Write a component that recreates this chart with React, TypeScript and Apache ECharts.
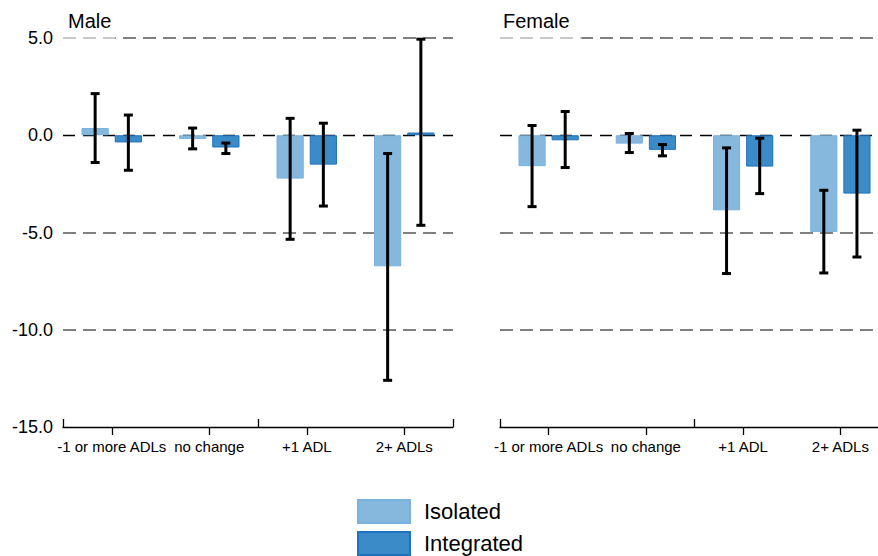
import React, { useEffect, useRef } from "react";
import * as echarts from "echarts";

const categories = ["-1 or more ADLs", "no change", "+1 ADL", "2+ ADLs"];
const yTicks = [-15, -10, -5, 0, 5];
const legendNames = ["Isolated", "Integrated"];

const maleIsolated = [0.37, -0.19, -2.23, -6.74];
const maleIsolatedLow = [-1.4, -0.7, -5.35, -12.6];
const maleIsolatedHigh = [2.14, 0.37, 0.87, -0.94];
const maleIntegrated = [-0.37, -0.63, -1.51, 0.14];
const maleIntegratedLow = [-1.8, -0.94, -3.64, -4.63];
const maleIntegratedHigh = [1.04, -0.4, 0.62, 4.94];

const femaleIsolated = [-1.59, -0.43, -3.86, -4.97];
const femaleIsolatedLow = [-3.67, -0.89, -7.11, -7.08];
const femaleIsolatedHigh = [0.5, 0.09, -0.65, -2.83];
const femaleIntegrated = [-0.26, -0.75, -1.61, -3.0];
const femaleIntegratedLow = [-1.66, -1.06, -3.0, -6.26];
const femaleIntegratedHigh = [1.22, -0.48, -0.15, 0.26];

const FONT = "'Liberation Sans', Arial, Helvetica, sans-serif";
const ISO_FILL = "#86b8dd";
const ISO_BORDER = "#79b2de";
const INT_FILL = "#3a8bc7";
const INT_BORDER = "#1f72bd";

const GAP_CAT = 0.38;
const GAP_BAR = 0.22;

function errData(lo: number[], hi: number[]) {
  return lo.map((l, i) => [i, l, hi[i]]);
}

function errorRender(sign: number) {
  return (params: any, api: any) => {
    const i = api.value(0);
    const lo = api.value(1);
    const hi = api.value(2);
    const pLo = api.coord([i, lo]);
    const pHi = api.coord([i, hi]);
    const catW = api.size([1, 0])[0];
    const w = (catW * (1 - GAP_CAT)) / (2 + GAP_BAR);
    const x = pLo[0] + sign * (w / 2 + (GAP_BAR * w) / 2);
    const style = { stroke: "#000", lineWidth: 3 };
    const cap = 4.5;
    return {
      type: "group",
      children: [
        { type: "line", shape: { x1: x, y1: pHi[1], x2: x, y2: pLo[1] }, style },
        { type: "line", shape: { x1: x - cap, y1: pHi[1], x2: x + cap, y2: pHi[1] }, style },
        { type: "line", shape: { x1: x - cap, y1: pLo[1], x2: x + cap, y2: pLo[1] }, style },
      ],
    };
  };
}

export default function App() {
  const ref = useRef<HTMLDivElement>(null);
  useEffect(() => {
    if (!ref.current) return;
    document.body.style.margin = "0";
    const chart = echarts.init(ref.current, null, { renderer: "svg" });

    const grids = [
      { left: 63, top: 38, width: 390, height: 389 },
      { left: 500, top: 38, width: 389, height: 389 },
    ];

    const xAxes: any[] = [];
    const yAxes: any[] = [];
    [0, 1].forEach((g) => {
      xAxes.push({
        type: "category",
        gridIndex: g,
        data: categories,
        position: "bottom",
        axisLine: { show: true, onZero: false, lineStyle: { color: "#000", width: 1.3 } },
        axisTick: { show: true, inside: true, length: 8, lineStyle: { color: "#000", width: 1.3 } },
        axisLabel: { show: false },
        splitLine: { show: false },
      });
      xAxes.push({
        type: "category",
        gridIndex: g,
        data: categories,
        position: "bottom",
        axisLine: { show: false, onZero: false },
        axisTick: { show: true, alignWithLabel: true, length: 8, lineStyle: { color: "#000", width: 1.3 } },
        axisLabel: { show: true, interval: 0, margin: 12, fontSize: 15, color: "#000", fontFamily: FONT },
        splitLine: { show: false },
      });
      yAxes.push({
        type: "value",
        gridIndex: g,
        min: yTicks[0],
        max: yTicks[yTicks.length - 1],
        interval: 5,
        axisLine: { show: false },
        axisTick: { show: false },
        axisLabel: {
          show: g === 0,
          margin: 10,
          fontSize: 18,
          color: "#000",
          fontFamily: FONT,
          formatter: (v: number) => v.toFixed(1),
        },
        splitLine: {
          show: true,
          lineStyle: {
            color: yTicks.map((t) => (t === 0 || t === -15 ? "transparent" : "#808080")),
            width: 2,
            type: [13, 7],
          },
        },
      });
    });

    const panels = [
      {
        iso: maleIsolated, isoLo: maleIsolatedLow, isoHi: maleIsolatedHigh,
        int: maleIntegrated, intLo: maleIntegratedLow, intHi: maleIntegratedHigh,
      },
      {
        iso: femaleIsolated, isoLo: femaleIsolatedLow, isoHi: femaleIsolatedHigh,
        int: femaleIntegrated, intLo: femaleIntegratedLow, intHi: femaleIntegratedHigh,
      },
    ];

    const series: any[] = [];
    panels.forEach((p, g) => {
      const xi = g * 2;
      series.push({
        name: legendNames[0],
        type: "bar",
        xAxisIndex: xi,
        yAxisIndex: g,
        data: p.iso,
        barGap: GAP_BAR * 100 + "%",
        barCategoryGap: GAP_CAT * 100 + "%",
        itemStyle: { color: ISO_FILL, borderColor: ISO_BORDER, borderWidth: 1 },
        markLine: {
          silent: true,
          symbol: "none",
          label: { show: false },
          lineStyle: { color: "#000", width: 1.3, type: [12, 8] },
          data: [{ yAxis: 0 }],
          z: 1,
        },
        z: 2,
      });
      series.push({
        name: legendNames[1],
        type: "bar",
        xAxisIndex: xi,
        yAxisIndex: g,
        data: p.int,
        barGap: GAP_BAR * 100 + "%",
        barCategoryGap: GAP_CAT * 100 + "%",
        itemStyle: { color: INT_FILL, borderColor: INT_BORDER, borderWidth: 1 },
        z: 2,
      });
      series.push({
        type: "custom",
        xAxisIndex: xi,
        yAxisIndex: g,
        data: errData(p.isoLo, p.isoHi),
        encode: { x: 0, y: [1, 2] },
        renderItem: errorRender(-1),
        z: 5,
        silent: true,
      });
      series.push({
        type: "custom",
        xAxisIndex: xi,
        yAxisIndex: g,
        data: errData(p.intLo, p.intHi),
        encode: { x: 0, y: [1, 2] },
        renderItem: errorRender(1),
        z: 5,
        silent: true,
      });
    });

    const legendBase = {
      orient: "vertical",
      left: 357,
      padding: 0,
      itemWidth: 52,
      itemHeight: 23,
      icon: "rect",
      textStyle: { fontSize: 22, color: "#000", fontFamily: FONT, padding: [0, 0, 0, 9] },
      selectedMode: false,
    };

    chart.setOption({
      animation: false,
      backgroundColor: "#fff",
      textStyle: { fontFamily: FONT },
      title: [
        {
          text: "Male",
          left: 57,
          top: 2,
          padding: [9, 4, 9, 11],
          backgroundColor: "rgba(255,255,255,0.57)",
          textStyle: { fontSize: 20, fontWeight: "normal", color: "#000", fontFamily: FONT },
        },
        {
          text: "Female",
          left: 500,
          top: 2,
          padding: [9, 12, 9, 3],
          backgroundColor: "rgba(255,255,255,0.57)",
          textStyle: { fontSize: 20, fontWeight: "normal", color: "#000", fontFamily: FONT },
        },
      ],
      legend: [
        { ...legendBase, data: [legendNames[0]], top: 499 },
        { ...legendBase, data: [legendNames[1]], top: 531 },
      ],
      grid: grids,
      xAxis: xAxes,
      yAxis: yAxes,
      series,
    });

    return () => chart.dispose();
  }, []);

  return (
    <div style={{ width: 878, height: 556, overflow: "hidden" }}>
      <div ref={ref} style={{ width: 900, height: 556 }} />
    </div>
  );
}
